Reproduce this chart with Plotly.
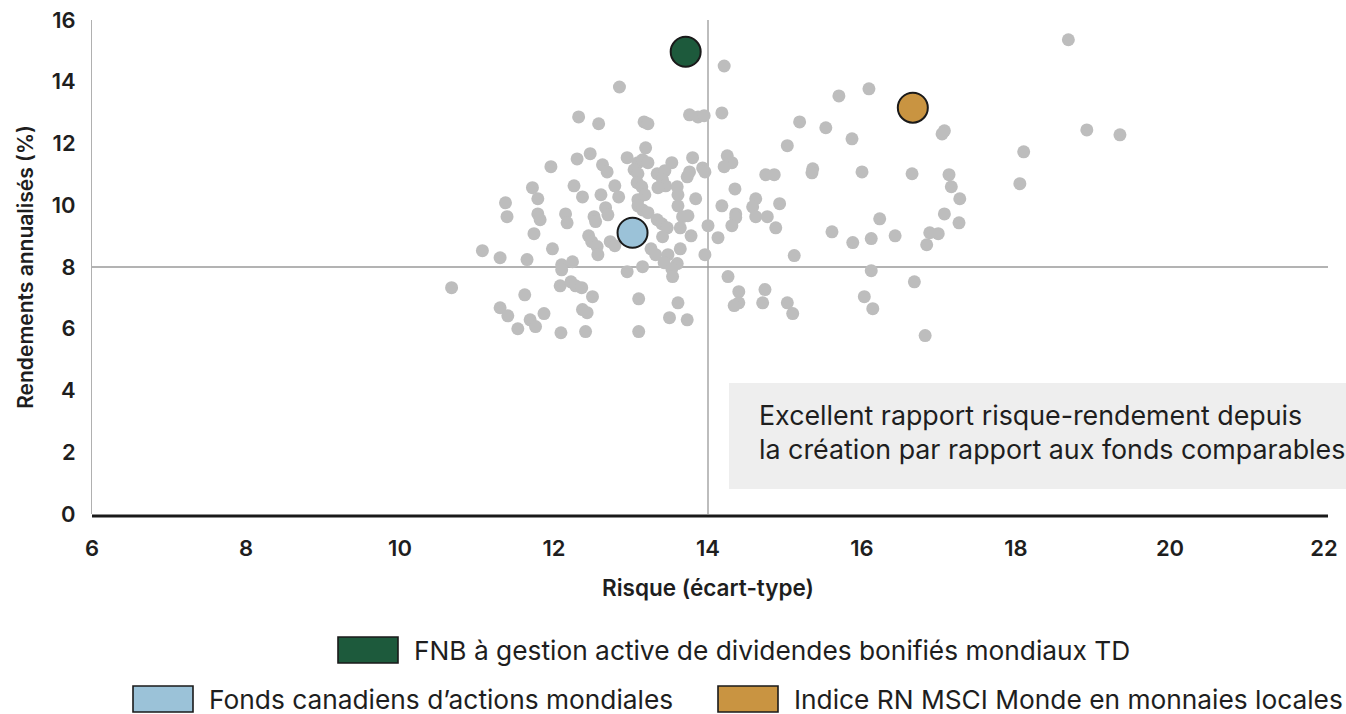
import plotly.graph_objects as go

# ---- data (risk = std dev, return = annualized %) ----
peer_risk = [
    18.68, 14.21, 12.85, 15.70, 16.09, 12.32, 12.58, 13.17, 13.22, 13.76,
    13.87, 13.95, 14.18, 15.19, 15.53, 17.07, 17.04, 18.92, 19.35, 15.87,
    13.19, 15.03, 18.10, 12.47, 12.30, 12.95, 14.25, 14.31, 14.21, 12.63,
    12.69, 11.96, 13.09, 13.15, 13.22, 13.53, 13.80, 13.93, 13.96, 13.04,
    13.09, 13.34, 13.44, 13.41, 13.73, 13.76, 14.75, 14.86, 15.36, 15.35,
    16.00, 16.65, 17.13, 17.16, 18.05, 14.35, 17.27, 14.62, 14.58, 14.62,
    14.18, 14.93, 14.36, 14.36, 14.31, 14.77, 17.07, 16.23, 17.26, 14.00,
    14.88, 15.61, 16.43, 16.12, 16.88, 16.99, 16.84, 15.88, 14.13, 13.96,
    15.12, 16.12, 14.26, 16.68, 14.40, 14.40, 14.34, 14.74, 14.71, 15.03,
    15.10, 16.03, 16.14, 16.82, 11.72, 11.79, 12.26, 12.37, 12.61, 12.79,
    12.84, 13.08, 13.14, 13.18, 13.09, 13.45, 13.60, 13.61, 13.84, 11.37,
    11.39, 11.79, 11.82, 12.15, 12.17, 12.52, 12.54, 12.67, 12.70, 13.09,
    13.15, 13.22, 13.61, 13.67, 11.74, 11.98, 12.45, 12.49, 12.56, 12.57,
    11.07, 11.30, 11.65, 12.10, 12.24, 12.10, 13.35, 13.74, 13.34, 13.40,
    13.47, 13.64, 13.41, 13.78, 12.73, 12.79, 13.26, 13.32, 13.48, 13.64,
    13.43, 13.60, 13.53, 13.54, 12.95, 13.15, 10.67, 11.62, 12.08, 12.22,
    12.28, 12.36, 12.50, 13.10, 13.61, 11.30, 11.40, 11.87, 11.69, 11.76,
    11.53, 12.37, 12.43, 12.09, 12.41, 13.10, 13.50, 13.73,
]
peer_return = [
    15.36, 14.51, 13.83, 13.54, 13.77, 12.86, 12.64, 12.70, 12.64, 12.93,
    12.86, 12.90, 12.99, 12.70, 12.51, 12.41, 12.31, 12.44, 12.28, 12.15,
    11.86, 11.93, 11.73, 11.67, 11.50, 11.54, 11.60, 11.38, 11.25, 11.31,
    11.08, 11.25, 11.38, 11.47, 11.38, 11.38, 11.54, 11.21, 11.08, 11.15,
    11.02, 11.02, 11.12, 10.82, 10.92, 11.08, 10.99, 10.99, 11.18, 11.05,
    11.08, 11.02, 10.99, 10.60, 10.70, 10.53, 10.21, 10.21, 9.95, 9.63,
    9.98, 10.05, 9.72, 9.60, 9.34, 9.63, 9.72, 9.56, 9.43, 9.34,
    9.27, 9.14, 9.01, 8.92, 9.11, 9.08, 8.72, 8.79, 8.95, 8.40,
    8.37, 7.88, 7.69, 7.52, 7.20, 6.84, 6.75, 7.27, 6.84, 6.84,
    6.49, 7.04, 6.65, 5.78, 10.57, 10.21, 10.63, 10.27, 10.34, 10.63,
    10.27, 10.73, 10.60, 10.34, 10.18, 10.63, 10.60, 10.34, 10.21, 10.08,
    9.63, 9.72, 9.53, 9.72, 9.43, 9.63, 9.47, 9.92, 9.69, 9.98,
    9.85, 9.76, 9.98, 9.63, 9.08, 8.59, 9.01, 8.82, 8.66, 8.40,
    8.53, 8.30, 8.24, 8.07, 8.17, 7.91, 10.57, 9.66, 9.53, 9.40,
    9.27, 9.27, 8.98, 9.01, 8.82, 8.69, 8.59, 8.40, 8.40, 8.59,
    8.14, 8.11, 7.94, 7.69, 7.85, 8.01, 7.33, 7.10, 7.39, 7.52,
    7.39, 7.33, 7.04, 6.97, 6.84, 6.68, 6.42, 6.49, 6.29, 6.07,
    6.00, 6.62, 6.52, 5.87, 5.91, 5.91, 6.36, 6.29,
]

highlight_names = [
    "FNB à gestion active de dividendes bonifiés mondiaux TD",
    "Fonds canadiens d’actions mondiales",
    "Indice RN MSCI Monde en monnaies locales",
]
highlight_risk = [13.71, 13.02, 16.66]
highlight_return = [14.97, 9.11, 13.16]
highlight_colors = ["#1d5a3c", "#9bc2d8", "#c99441"]

ref_risk = 14
ref_return = 8
x_ticks = [6, 8, 10, 12, 14, 16, 18, 20, 22]
y_ticks = [0, 2, 4, 6, 8, 10, 12, 14, 16]

note_lines = [
    "Excellent rapport risque-rendement depuis",
    "la création par rapport aux fonds comparables",
]

# ---- layout geometry (pixels) ----
W, H = 1346, 714
ML, MR, MT, MB = 92, 22, 20, 200
PW, PH = W - ML - MR, H - MT - MB
FONT = "Inter, 'Open Sans', sans-serif"
TXT = "#1e1e1e"


def px(xp):
    return (xp - ML) / PW


def py(yp):
    return (H - MB - yp) / PH


fig = go.Figure()

fig.add_trace(go.Scatter(
    x=peer_risk, y=peer_return, mode="markers", name="Pairs",
    marker=dict(color="#bdbdbd", size=13, line=dict(width=0)),
    hoverinfo="x+y",
))

for name, xr, yr, col in zip(highlight_names, highlight_risk, highlight_return, highlight_colors):
    fig.add_trace(go.Scatter(
        x=[xr], y=[yr], mode="markers", name=name,
        marker=dict(color=col, size=30, line=dict(color="#1a1a1a", width=2)),
    ))

shapes = [
    dict(type="line", xref="x", yref="y", x0=ref_risk, x1=ref_risk, y0=0, y1=16.05,
         line=dict(color="#9a9a9a", width=1.3), layer="below"),
    dict(type="line", xref="paper", yref="y", x0=0, x1=px(1328), y0=ref_return, y1=ref_return,
         line=dict(color="#9a9a9a", width=1.3), layer="below"),
    dict(type="line", xref="paper", yref="paper", x0=0, x1=px(1328), y0=py(516), y1=py(516),
         line=dict(color="#1a1a1a", width=3.2)),
    dict(type="rect", xref="paper", yref="paper", x0=px(729), x1=px(1350), y0=py(489), y1=py(383),
         fillcolor="#eeeeee", line=dict(width=0), layer="below"),
]

annotations = [
    dict(xref="paper", yref="paper", x=px(757), y=py(415), text=note_lines[0],
         showarrow=False, xanchor="left", yanchor="middle",
         font=dict(family=FONT, size=26.8, color=TXT)),
    dict(xref="paper", yref="paper", x=px(757), y=py(449), text=note_lines[1],
         showarrow=False, xanchor="left", yanchor="middle",
         font=dict(family=FONT, size=26.8, color=TXT)),
]

# manual legend
legend_pos = [(338, 650), (133, 699), (718, 699)]
for (lx, ly), name, col in zip(legend_pos, highlight_names, highlight_colors):
    shapes.append(dict(type="rect", xref="paper", yref="paper",
                       x0=px(lx), x1=px(lx + 60), y0=py(ly + 13), y1=py(ly - 13),
                       fillcolor=col, line=dict(color="#1a1a1a", width=1.6)))
    annotations.append(dict(xref="paper", yref="paper", x=px(lx + 74), y=py(ly),
                            text=name, showarrow=False, xanchor="left", yanchor="middle",
                            font=dict(family=FONT, size=26.3, color=TXT)))

fig.update_layout(
    width=W, height=H,
    margin=dict(l=ML, r=MR, t=MT, b=MB),
    paper_bgcolor="white", plot_bgcolor="white",
    showlegend=False,
    shapes=shapes, annotations=annotations,
    font=dict(family=FONT, color=TXT),
    xaxis=dict(
        range=[6, 22], tickvals=x_ticks, showgrid=False, zeroline=False,
        automargin=False,
        showline=False, ticks="", ticklabelstandoff=19,
        tickfont=dict(family=FONT, size=22, color=TXT, weight=600),
        title=dict(text="Risque (écart-type)", standoff=20,
                   font=dict(family=FONT, size=22.5, color=TXT, weight=600)),
    ),
    yaxis=dict(
        range=[0, 16], tickvals=y_ticks, showgrid=False, zeroline=False,
        automargin=False,
        showline=True, linecolor="#b0b0b0", linewidth=1, ticks="",
        ticklabelstandoff=11,
        tickfont=dict(family=FONT, size=22, color=TXT, weight=600),
        title=dict(text="Rendements annualisés (%)", standoff=12,
                   font=dict(family=FONT, size=21, color=TXT, weight=600)),
    ),
)

fig.write_html("out.html", config={"displayModeBar": False},
               post_script="document.body.style.margin='0px';")
